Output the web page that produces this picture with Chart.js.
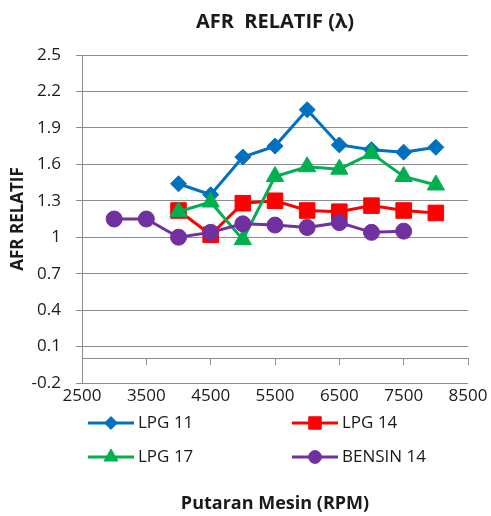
<!DOCTYPE html>
<html>
<head>
<meta charset="utf-8">
<script src="https://cdn.jsdelivr.net/npm/chart.js@4/dist/chart.umd.min.js"></script>
<style>
  html, body { margin: 0; padding: 0; background: #fff; }
  #wrap { width: 491px; height: 516px; }
</style>
</head>
<body>
<div id="wrap"><canvas id="afr-chart" width="491" height="516"></canvas></div>
<script>
// Data
const rpmLpg = [4000, 4500, 5000, 5500, 6000, 6500, 7000, 7500, 8000];
const rpmBensin = [3000, 3500, 4000, 4500, 5000, 5500, 6000, 6500, 7000, 7500];
const lpg11 = [1.44, 1.35, 1.66, 1.75, 2.05, 1.76, 1.72, 1.70, 1.74];
const lpg14 = [1.22, 1.02, 1.28, 1.30, 1.22, 1.21, 1.26, 1.22, 1.20];
const lpg17 = [1.21, 1.29, 0.98, 1.50, 1.58, 1.56, 1.69, 1.50, 1.43];
const bensin14 = [1.15, 1.15, 1.00, 1.04, 1.11, 1.10, 1.08, 1.12, 1.04, 1.05];
const seriesLabels = ['LPG 11', 'LPG 14', 'LPG 17', 'BENSIN 14'];

const FONT = '"Open Sans", "DejaVu Sans", sans-serif';
const GRID = '#8c8c8c';
const TXT = '#1a1a1a';

const pts = (xs, ys) => ys.map((y, i) => ({ x: xs[i], y: y }));

function series(label, xs, ys, color, style, radius, order) {
    return {
        label: label,
        data: pts(xs, ys),
        borderColor: color,
        backgroundColor: color,
        pointBackgroundColor: color,
        pointBorderColor: color,
        borderWidth: 3,
        pointStyle: style,
        pointRadius: radius,
        pointBorderWidth: 1,
        tension: 0,
        order: order
    };
}

// Legend drawn like Excel: short line with the marker in the middle
const excelLegend = {
    id: 'excelLegend',
    afterDraw(chart) {
        const { ctx, chartArea } = chart;
        const drawPoint = Chart.helpers && Chart.helpers.drawPoint;
        chart.data.datasets.forEach((ds, i) => {
            const col = i % 2, row = Math.floor(i / 2);
            const x0 = chartArea.left + 6 + col * 204;
            const y = chartArea.bottom + 40 + row * 34;
            ctx.save();
            ctx.strokeStyle = ds.borderColor;
            ctx.lineWidth = 3;
            ctx.beginPath();
            ctx.moveTo(x0, y);
            ctx.lineTo(x0 + 46, y);
            ctx.stroke();
            if (drawPoint) {
                ctx.fillStyle = ds.pointBackgroundColor;
                ctx.strokeStyle = ds.pointBorderColor;
                ctx.lineWidth = 1;
                drawPoint(ctx, { pointStyle: ds.pointStyle, radius: ds.pointRadius * 0.8, borderWidth: 1, rotation: 0 }, x0 + 23, y);
            }
            ctx.fillStyle = TXT;
            ctx.font = '17px ' + FONT;
            ctx.textBaseline = 'middle';
            ctx.textAlign = 'left';
            ctx.fillText(ds.label, x0 + 50, y);
            ctx.restore();
        });
    }
};

new Chart(document.getElementById('afr-chart'), {
    type: 'line',
    data: {
        datasets: [
            series(seriesLabels[0], rpmLpg, lpg11, '#0070C0', 'rectRot', 8, 4),
            series(seriesLabels[1], rpmLpg, lpg14, '#FF0000', 'rect', 11, 3),
            series(seriesLabels[2], rpmLpg, lpg17, '#00B050', 'triangle', 10, 2),
            series(seriesLabels[3], rpmBensin, bensin14, '#7030A0', 'circle', 8, 1)
        ]
    },
    options: {
        responsive: false,
        animation: false,
        layout: { padding: { top: 0, right: 23, bottom: 0, left: 0 } },
        plugins: {
            legend: { display: false },
            tooltip: { enabled: false },
            title: {
                display: true,
                text: 'AFR  RELATIF (\u03bb)',
                fullSize: false,
                color: TXT,
                font: { family: FONT, size: 20, weight: 'bold', lineHeight: 1.2 },
                padding: { top: 10, bottom: 21 }
            }
        },
        scales: {
            x: {
                type: 'linear',
                position: 'bottom',
                min: 2500,
                max: 8500,
                afterFit: s => { s.height = 133; },
                grid: { display: false, drawTicks: false },
                border: { display: false },
                ticks: {
                    stepSize: 1000,
                    padding: 3,
                    color: TXT,
                    maxRotation: 0,
                    font: { family: FONT, size: 17 },
                    callback: v => String(v)
                },
                title: {
                    display: true,
                    text: 'Putaran Mesin (RPM)',
                    align: 'center',
                    color: TXT,
                    font: { family: FONT, size: 18, weight: 'bold', lineHeight: 1.2 },
                    padding: { top: 0, bottom: 1 }
                }
            },
            // axis line crossing at y = 0, with tick marks only
            x2: {
                type: 'linear',
                position: { y: 0 },
                min: 2500,
                max: 8500,
                grid: { display: true, drawOnChartArea: false, drawTicks: true, tickLength: 6, color: GRID, lineWidth: 1 },
                border: { display: true, color: GRID, width: 1 },
                ticks: { stepSize: 1000, display: false }
            },
            y: {
                min: -0.2,
                max: 2.5,
                afterFit: s => { s.width = 82; },
                grid: { color: GRID, tickLength: 6 },
                border: { display: true, color: GRID, width: 1 },
                ticks: {
                    stepSize: 0.3,
                    padding: 15,
                    color: TXT,
                    font: { family: FONT, size: 17 },
                    callback: v => String(Math.round(v * 10) / 10)
                },
                title: {
                    display: true,
                    text: 'AFR RELATIF',
                    color: TXT,
                    font: { family: FONT, size: 17, weight: 'bold', lineHeight: 1.2 },
                    padding: { top: 8, bottom: 0 }
                }
            }
        }
    },
    plugins: [excelLegend]
});
</script>
</body>
</html>
